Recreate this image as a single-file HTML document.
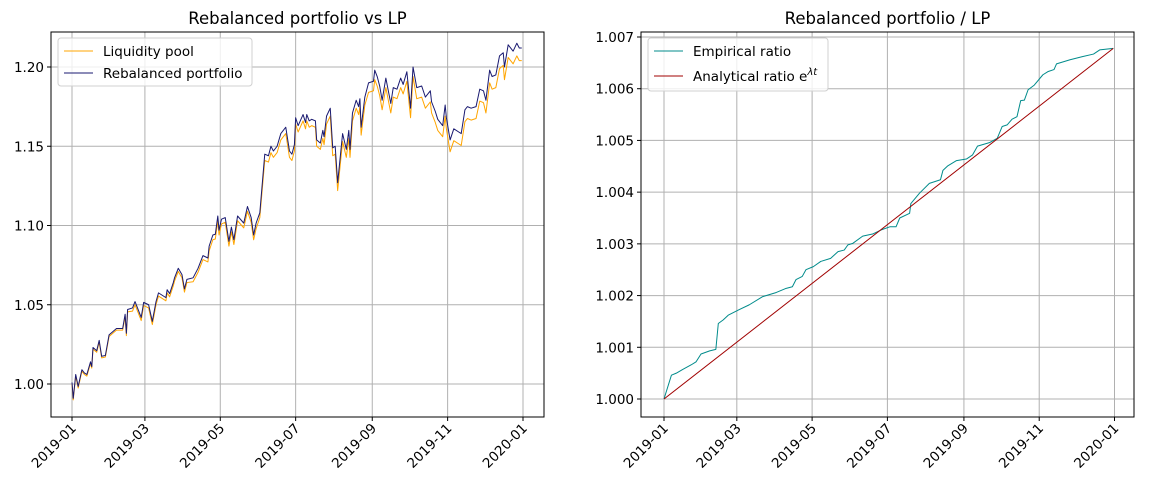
<!DOCTYPE html>
<html><head><meta charset="utf-8"><style>
body{margin:0;background:#fff}
svg text{font-family:"DejaVu Sans","Liberation Sans",sans-serif;fill:#000}
</style></head><body>
<svg id="fig" width="1149" height="487" xmlns="http://www.w3.org/2000/svg"></svg>
<script>
const lpDays=[0,1,3,5,8,10,12,15,16,17,20,22,24,27,30,36,41,43,44,45,49,51,56,58,62,65,68,70,76,77,79,82,83,86,89,91,93,98,102,106,110,111,114,116,118,119,121,124,127,129,131,134,139,142,145,147,149,152,156,159,161,163,166,169,173,176,178,180,181,183,187,189,190,192,194,197,198,201,203,204,206,209,211,213,215,219,222,224,225,227,230,232,233,234,237,240,244,245,247,249,251,254,258,260,263,266,268,271,274,276,279,283,286,290,291,294,296,300,302,303,306,309,313,315,318,320,323,327,330,333,335,338,340,343,346,349,350,353,357,360,362,364];
const rebalValues=[1.001,0.991,1.006,0.9985,1.009,1.007,1.006,1.014,1.011,1.023,
1.021,1.0275,1.0175,1.018,1.031,1.035,1.035,1.044,1.032,1.047,
1.048,1.052,1.042,1.0515,1.050,1.0395,1.052,1.0575,1.0545,1.0595,
1.057,1.064,1.067,1.073,1.069,1.060,1.066,1.067,1.073,1.081,
1.0795,1.087,1.094,1.0945,1.106,1.097,1.104,1.105,1.090,1.099,
1.091,1.106,1.1015,1.112,1.105,1.094,1.1015,1.108,1.145,1.144,
1.150,1.147,1.150,1.158,1.162,1.147,1.145,1.151,1.168,1.163,
1.170,1.165,1.170,1.166,1.167,1.166,1.154,1.152,1.160,1.156,
1.169,1.174,1.149,1.150,1.127,1.158,1.148,1.160,1.148,1.171,
1.179,1.175,1.180,1.162,1.181,1.190,1.191,1.198,1.194,1.188,
1.179,1.193,1.177,1.187,1.186,1.193,1.189,1.197,1.174,1.200,
1.187,1.188,1.181,1.185,1.178,1.172,1.167,1.163,1.176,1.168,
1.154,1.161,1.159,1.158,1.173,1.175,1.174,1.175,1.186,1.185,
1.179,1.198,1.194,1.195,1.207,1.209,1.200,1.214,1.210,1.215,
1.212,1.212];
const lpValues=[1.000,0.990,1.005,0.9975,1.008,1.006,1.005,1.013,1.010,1.022,
1.020,1.0265,1.0165,1.017,1.030,1.034,1.034,1.0425,1.0305,1.0455,
1.046,1.050,1.040,1.0495,1.048,1.0375,1.050,1.0555,1.0525,1.0575,
1.055,1.062,1.065,1.071,1.067,1.058,1.064,1.0645,1.0705,1.0785,
1.077,1.084,1.091,1.0915,1.103,1.094,1.101,1.102,1.087,1.096,
1.088,1.103,1.0985,1.109,1.102,1.091,1.098,1.105,1.141,1.140,
1.146,1.143,1.146,1.154,1.158,1.143,1.141,1.147,1.164,1.159,
1.166,1.161,1.166,1.162,1.163,1.162,1.150,1.148,1.155,1.151,
1.164,1.169,1.144,1.145,1.122,1.153,1.143,1.155,1.143,1.166,
1.174,1.170,1.175,1.157,1.176,1.184,1.185,1.192,1.188,1.182,
1.173,1.187,1.171,1.181,1.180,1.187,1.183,1.191,1.168,1.194,
1.180,1.181,1.174,1.178,1.171,1.165,1.160,1.156,1.169,1.161,
1.1465,1.1535,1.1515,1.1505,1.1655,1.1675,1.1665,1.1675,1.1785,1.1775,
1.171,1.190,1.186,1.187,1.199,1.201,1.192,1.206,1.202,1.207,
1.204,1.204];
const empDays=[0,6,10,15,22,26,30,37,42,44,48,52,61,69,80,91,99,104,107,112,115,121,127,135,141,146,149,153,161,169,176,183,188,191,199,200,207,215,224,226,230,237,245,250,254,264,270,274,278,282,286,289,292,295,300,307,311,316,318,329,339,348,353,364];
const empValues=[1.0,1.00046,1.0005,1.00057,1.00066,1.00072,1.00087,1.00093,1.00096,1.00146,1.00153,1.00162,1.00173,1.00182,1.00198,1.00206,1.00214,1.00217,1.00231,1.00237,1.0025,1.00256,1.00266,1.00272,1.00285,1.00288,1.00298,1.00301,1.00315,1.00319,1.00327,1.00333,1.00333,1.0035,1.00359,1.00378,1.00398,1.00417,1.00424,1.00442,1.00451,1.00461,1.00464,1.00472,1.00489,1.00496,1.00504,1.00527,1.0053,1.00541,1.00546,1.00577,1.00578,1.00598,1.00607,1.00627,1.00633,1.00637,1.00648,1.00656,1.00662,1.00667,1.00675,1.00678];
const analyticalEnd=[0,364];
const analyticalValues=[1.0,1.00678];
const xTickLabels=["2019-01","2019-03","2019-05","2019-07","2019-09","2019-11","2020-01"];
const xTickDays=[0,59,120,181,243,304,365];
const leftYTicks=[1.00,1.05,1.10,1.15,1.20];
const rightYTicks=[1.000,1.001,1.002,1.003,1.004,1.005,1.006,1.007];

const NS="http://www.w3.org/2000/svg";
const svg=document.getElementById('fig');
function mk(tag,attrs,parent){const e=document.createElementNS(NS,tag);for(const k in attrs)e.setAttribute(k,attrs[k]);(parent||svg).appendChild(e);return e;}

function panel(cfg){
  const g=mk('g',{});
  
  
  const x=d=>cfg.x0+(d/365)*(cfg.x1-cfg.x0);
  const y=v=>cfg.y0+(v-cfg.v0)/(cfg.v1-cfg.v0)*(cfg.y1-cfg.y0);
  xTickDays.forEach((d,i)=>{
    const gl=mk('line',{x1:x(d),x2:x(d),y1:cfg.top,y2:cfg.bottom,stroke:'#b0b0b0','stroke-width':1},g);
    
    
    mk('line',{x1:x(d),x2:x(d),y1:cfg.bottom,y2:cfg.bottom+4,stroke:'#000'},g);
    const t=mk('text',{x:0,y:0,'font-size':13.5,'text-anchor':'end',transform:`translate(${x(d)+5},${cfg.bottom+12}) rotate(-45)`},g);
    
    
    t.textContent=xTickLabels[i];
  });
  cfg.yt.forEach(v=>{
    const gl=mk('line',{x1:cfg.left,x2:cfg.right,y1:y(v),y2:y(v),stroke:'#b0b0b0','stroke-width':1},g);
    
    
    mk('line',{x1:cfg.left-4,x2:cfg.left,y1:y(v),y2:y(v),stroke:'#000'},g);
    const t=mk('text',{x:cfg.left-7,y:y(v)+5,'font-size':13.5,'text-anchor':'end'},g);
    
    
    t.textContent=v.toFixed(cfg.dec);
  });
  cfg.series.forEach(s=>{
    const p=mk('polyline',{points:s.d.map((d,i)=>x(d)+','+y(s.v[i])).join(' '),fill:'none',stroke:s.c,'stroke-width':1,'stroke-linejoin':'round'},g);
    
    
  });
  const fr=mk('rect',{x:cfg.left,y:cfg.top,width:cfg.right-cfg.left,height:cfg.bottom-cfg.top,fill:'none',stroke:'#000','stroke-width':1},g);
  
  
  const tt=mk('text',{x:(cfg.left+cfg.right)/2,y:24,'font-size':16.5,'text-anchor':'middle'},g);
  
  
  tt.textContent=cfg.title;
  const lg=mk('g',{},g);
  
  
  mk('rect',{x:cfg.left+7,y:38,width:cfg.lw,height:cfg.lh,rx:3,fill:'#fff','fill-opacity':0.8,stroke:'#d0d0d0'},lg);
  cfg.series.forEach((s,i)=>{
    const yy=51+i*cfg.ls;
    mk('line',{x1:cfg.left+13,x2:cfg.left+42,y1:yy,y2:yy,stroke:s.c,'stroke-width':1},lg);
    const t=mk('text',{x:cfg.left+52,y:yy+5,'font-size':13.5},lg);
    
    
    t.innerHTML=s.label;
  });
}
panel({name:'lp-vs-rebalanced-chart',title:'Rebalanced portfolio vs LP',left:51,right:544,top:32,bottom:417,
  x0:72,x1:523,v0:1.0,v1:1.2,y0:384,y1:67,yt:leftYTicks,dec:2,lw:194,lh:48,ls:22,
  series:[{name:'liquidity-pool-line',d:lpDays,v:lpValues,c:'#ffa500',label:'Liquidity pool'},
          {name:'rebalanced-portfolio-line',d:lpDays,v:rebalValues,c:'#191970',label:'Rebalanced portfolio'}]});
panel({name:'ratio-chart',title:'Rebalanced portfolio / LP',left:641,right:1134,top:32,bottom:417,
  x0:664,x1:1114.5,v0:1.0,v1:1.007,y0:399,y1:37,yt:rightYTicks,dec:3,lw:180,lh:53,ls:25,
  series:[{name:'empirical-ratio-line',d:empDays,v:empValues,c:'#008b8b',label:'Empirical ratio'},
          {name:'analytical-ratio-line',d:analyticalEnd,v:analyticalValues,c:'#a00000',label:'Analytical ratio e<tspan dy="-6" font-size="10" font-style="italic">λt</tspan>'}]});
</script>
</body></html>
